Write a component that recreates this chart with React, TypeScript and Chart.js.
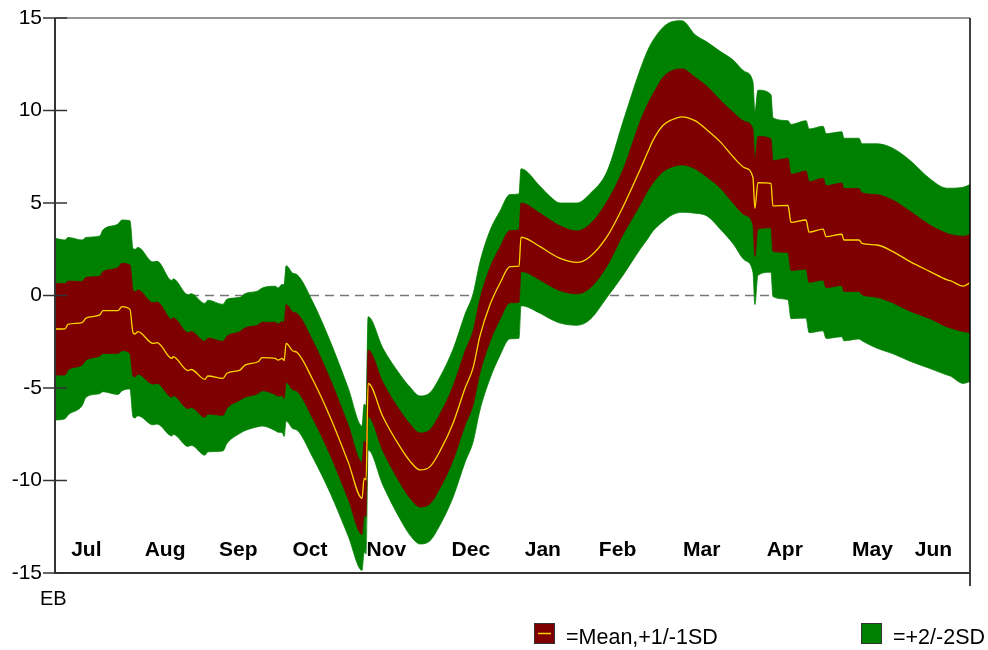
import { useEffect, useRef } from 'react';
import { Chart, registerables } from 'chart.js';

Chart.register(...registerables);

const FONT = '"Liberation Sans", Arial, Helvetica, sans-serif';
const RED = '#7f0000';
const GREEN = '#008000';
const YELLOW = '#ffd700';

// Day of season (0 = 1 Jul)
const days = [
  0, 4.0, 5.2, 10.8, 12.4, 17.9, 19.1, 25.1, 26.7, 29.9, 31.1, 31.9, 33.1,
  39.1, 40.7, 46.7, 47.1, 53.1, 54.3, 59.8, 61.0, 67.0, 68.6, 73.8, 75.8, 81.0, 82.6,
  87.8, 89.0, 90.6, 91.4, 92.2, 94.9, 96.5, 102.9, 109.7, 116.9, 122.5, 123.3, 124.1,
  124.9, 130.8, 137.6, 141.6, 145.6, 149.6, 153.6, 158.8, 163.6, 166.8, 169.5, 173.5, 177.5, 181.5, 185.1,
  185.9, 193.5, 197.5, 201.5, 208.2, 213.4, 220.2, 226.6, 233.4, 236.6, 238.6, 242.6, 246.1, 250.1, 255.3, 260.1, 265.3, 270.5, 275.2, 278.4,
  279.2, 280.4, 285.6, 286.4, 292.4, 293.6, 299.6, 300.8, 306.4, 307.6, 313.9, 314.7, 320.7, 321.9, 327.9, 334.3, 341.1, 349.1, 355.9, 357.1, 362.3, 365,
];

// Mean + 2 SD
const plus2Values = [
  3.09, 3.00, 3.14, 3.00, 3.14, 3.22, 3.54, 3.86, 4.08, 4.04, 2.55, 2.50, 2.60,
  1.81, 1.85, 0.80, 0.90, 0.04, 0.10, -0.43, -0.25, -0.48, -0.20, -0.10, 0.10, 0.25, 0.40,
  0.50, 0.41, 0.60, 0.58, 1.61, 1.20, 1.13, -0.37, -2.45, -4.98, -7.06, -5.88, -5.97,
  -1.15, -2.85, -4.27, -4.95, -5.43, -5.25, -4.40, -2.90, -1.00, 0.10, 1.80, 3.50, 4.56, 5.46, 5.49,
  6.85, 5.90, 5.35, 5.00, 5.00, 5.50, 6.70, 9.40, 12.20, 13.30, 13.80, 14.50, 14.80, 14.85, 14.10, 13.70, 13.20, 12.73, 12.10, 11.56,
  9.91, 11.10, 10.86, 9.60, 9.45, 9.25, 9.45, 9.00, 9.15, 8.75, 8.85, 8.50, 8.50, 8.20, 8.20, 7.95, 7.30, 6.30, 5.80, 5.80, 5.85, 6.00,
];

// Mean + 1 SD
const plus1Values = [
  0.66, 0.64, 0.78, 0.75, 0.98, 1.05, 1.29, 1.50, 1.74, 1.65, 0.30, 0.20, 0.30,
  -0.39, -0.35, -1.30, -1.20, -2.01, -1.95, -2.48, -2.30, -2.48, -2.20, -1.95, -1.75, -1.60, -1.45,
  -1.45, -1.54, -1.40, -1.47, -0.49, -0.90, -0.97, -2.47, -4.50, -6.98, -9.01, -7.88, -7.97,
  -2.95, -4.70, -6.22, -6.95, -7.43, -7.25, -6.40, -4.90, -3.00, -1.90, -0.20, 1.50, 2.61, 3.51, 3.54,
  5.00, 4.44, 4.08, 3.76, 3.49, 3.85, 5.08, 6.80, 9.40, 10.40, 10.90, 11.80, 12.15, 12.25, 11.80, 11.30, 10.57, 9.90, 9.40, 9.00,
  7.31, 8.60, 8.46, 7.29, 7.42, 6.55, 6.73, 6.15, 6.34, 5.93, 6.08, 5.78, 5.78, 5.55, 5.45, 5.15, 4.55, 3.80, 3.35, 3.30, 3.20, 3.30,
];

// Mean
const meanValues = [
  -1.81, -1.80, -1.56, -1.47, -1.22, -1.05, -0.82, -0.82, -0.60, -0.75, -2.00, -2.08, -1.95,
  -2.59, -2.55, -3.40, -3.30, -4.06, -4.00, -4.53, -4.35, -4.48, -4.20, -4.03, -3.76, -3.58, -3.36,
  -3.40, -3.49, -3.40, -3.52, -2.59, -3.00, -3.07, -4.57, -6.55, -8.98, -10.96, -9.88, -9.97,
  -4.75, -6.55, -8.17, -8.95, -9.43, -9.25, -8.40, -6.90, -5.00, -3.90, -2.20, -0.50, 0.66, 1.56, 1.59,
  3.15, 2.64, 2.30, 2.01, 1.79, 2.10, 3.18, 4.80, 6.80, 7.80, 8.40, 9.20, 9.50, 9.66, 9.45, 8.95, 8.32, 7.50, 6.90, 6.39,
  4.71, 6.10, 6.06, 4.84, 4.87, 3.95, 4.08, 3.43, 3.59, 3.18, 3.31, 3.00, 3.00, 2.82, 2.73, 2.37, 1.83, 1.29, 0.84, 0.80, 0.51, 0.69,
];

// Mean - 1 SD
const minus1Values = [
  -4.30, -4.30, -4.03, -3.76, -3.49, -3.27, -3.13, -3.13, -2.98, -3.13, -4.35, -4.40, -4.25,
  -4.79, -4.75, -5.50, -5.40, -6.11, -6.05, -6.58, -6.40, -6.48, -6.10, -5.65, -5.50, -5.30, -5.15,
  -5.35, -5.44, -5.40, -5.57, -4.69, -5.10, -5.17, -6.67, -8.60, -10.98, -12.91, -11.88, -11.97,
  -6.55, -8.40, -10.12, -10.95, -11.43, -11.25, -10.40, -8.90, -7.00, -5.90, -4.20, -2.50, -1.29, -0.39, -0.36,
  1.30, 0.84, 0.52, 0.26, 0.09, 0.40, 1.60, 3.30, 4.90, 5.70, 6.10, 6.70, 6.95, 7.06, 6.85, 6.40, 5.82, 5.00, 4.35, 3.83,
  2.11, 3.60, 3.66, 2.39, 2.32, 1.35, 1.43, 0.71, 0.84, 0.43, 0.54, 0.22, 0.22, 0.05, -0.10, -0.40, -0.85, -1.25, -1.70, -1.75, -1.95, -2.00,
];

// Mean - 2 SD
const minus2Values = [
  -6.73, -6.66, -6.46, -5.96, -5.50, -5.30, -5.20, -5.35, -5.15, -5.05, -6.55, -6.62, -6.50,
  -6.99, -6.95, -7.60, -7.50, -8.16, -8.10, -8.63, -8.45, -8.40, -8.00, -7.45, -7.30, -7.09, -7.05,
  -7.30, -7.39, -7.40, -7.62, -6.79, -7.20, -7.27, -8.77, -10.65, -12.98, -14.86, -13.88, -13.97,
  -8.35, -10.25, -12.07, -12.95, -13.43, -13.25, -12.40, -10.90, -9.00, -7.90, -6.20, -4.50, -3.24, -2.34, -2.31,
  -0.55, -0.96, -1.26, -1.49, -1.61, -1.30, -0.10, 1.10, 2.50, 3.10, 3.50, 4.00, 4.35, 4.50, 4.45, 4.30, 3.60, 2.80, 1.90, 1.27,
  -0.49, 1.10, 1.26, -0.06, -0.23, -1.25, -1.22, -2.01, -1.91, -2.32, -2.23, -2.45, -2.35, -2.45, -2.85, -3.15, -3.55, -3.95, -4.30, -4.35, -4.75, -4.65,
];

const yTicks = [15, 10, 5, 0, -5, -10, -15];
const monthLabels = ['Jul', 'Aug', 'Sep', 'Oct', 'Nov', 'Dec', 'Jan', 'Feb', 'Mar', 'Apr', 'May', 'Jun'];
const monthLabelDays = [12.5, 43.9, 73.1, 101.7, 132.2, 165.9, 194.6, 224.4, 258.0, 291.1, 326.1, 350.4];

const stationName = 'EB';
const legendMean = '=Mean,+1/-1SD';
const legendTwoSd = '=+2/-2SD';

function series(values: number[]) {
  return days.map((d, i) => ({ x: d, y: values[i] }));
}

const labelsPlugin = {
  id: 'monthLabels',
  afterDatasetsDraw(chart: any) {
    const { ctx } = chart;
    const x = chart.scales.x;
    ctx.save();
    ctx.fillStyle = '#000';
    ctx.font = `bold 21px ${FONT}`;
    ctx.textAlign = 'center';
    ctx.textBaseline = 'alphabetic';
    monthLabels.forEach((m, i) => {
      ctx.fillText(m, x.getPixelForValue(monthLabelDays[i]), 556);
    });
    ctx.restore();
  },
};

const framePlugin = {
  id: 'frame',
  afterDraw(chart: any) {
    const { ctx, chartArea: a } = chart;
    const y = chart.scales.y;
    ctx.save();
    // top border
    ctx.strokeStyle = '#707070';
    ctx.lineWidth = 1.5;
    ctx.beginPath();
    ctx.moveTo(a.left, a.top);
    ctx.lineTo(a.right, a.top);
    ctx.stroke();
    // right border with tick below the axis
    ctx.strokeStyle = '#000';
    ctx.lineWidth = 1.5;
    ctx.beginPath();
    ctx.moveTo(a.right, a.top);
    ctx.lineTo(a.right, a.bottom + 13);
    ctx.stroke();
    // left and bottom axes
    ctx.strokeStyle = '#333';
    ctx.lineWidth = 2;
    ctx.beginPath();
    ctx.moveTo(a.left, a.top);
    ctx.lineTo(a.left, a.bottom);
    ctx.lineTo(a.right, a.bottom);
    ctx.stroke();
    // y ticks crossing the axis, and their labels
    ctx.lineWidth = 1.5;
    ctx.font = `21px ${FONT}`;
    ctx.fillStyle = '#000';
    ctx.textAlign = 'right';
    ctx.textBaseline = 'middle';
    yTicks.forEach((t) => {
      const py = y.getPixelForValue(t);
      ctx.strokeStyle = '#333';
      ctx.beginPath();
      ctx.moveTo(a.left - 12, py);
      ctx.lineTo(a.left + 12, py);
      ctx.stroke();
      ctx.fillText(String(t), a.left - 13, py);
    });
    // station name
    ctx.textAlign = 'left';
    ctx.textBaseline = 'alphabetic';
    ctx.font = `20px ${FONT}`;
    ctx.fillText(stationName, 40, 605);
    // legend
    ctx.font = `21.5px ${FONT}`;
    ctx.fillStyle = RED;
    ctx.fillRect(534.5, 623.5, 20, 20);
    ctx.strokeStyle = '#333';
    ctx.lineWidth = 1;
    ctx.strokeRect(534.5, 623.5, 20, 20);
    ctx.strokeStyle = YELLOW;
    ctx.lineWidth = 1.5;
    ctx.beginPath();
    ctx.moveTo(538, 633.5);
    ctx.lineTo(551, 633.5);
    ctx.stroke();
    ctx.fillStyle = '#000';
    ctx.fillText(legendMean, 566, 644);
    ctx.fillStyle = GREEN;
    ctx.fillRect(861.5, 623.5, 20, 20);
    ctx.strokeStyle = '#333';
    ctx.lineWidth = 1;
    ctx.strokeRect(861.5, 623.5, 20, 20);
    ctx.fillStyle = '#000';
    ctx.fillText(legendTwoSd, 893, 644);
    ctx.restore();
  },
};

export default function App() {
  const ref = useRef<HTMLCanvasElement>(null);

  useEffect(() => {
    if (!ref.current) return;
    const line = { pointRadius: 0, cubicInterpolationMode: 'monotone' };
    const chart = new Chart(ref.current, {
      type: 'line',
      data: {
        datasets: [
          { label: 'Mean', data: series(meanValues), borderColor: YELLOW, borderWidth: 1.3, fill: false, ...line },
          { label: '+1SD', data: series(plus1Values), borderColor: RED, backgroundColor: RED, borderWidth: 0.8, fill: '+1', ...line },
          { label: '-1SD', data: series(minus1Values), borderColor: RED, borderWidth: 0.8, fill: false, ...line },
          { label: '+2SD', data: series(plus2Values), borderColor: GREEN, backgroundColor: GREEN, borderWidth: 0.8, fill: '+1', ...line },
          { label: '-2SD', data: series(minus2Values), borderColor: GREEN, borderWidth: 0.8, fill: false, ...line },
          {
            label: 'zero',
            data: [{ x: 0, y: 0 }, { x: 365, y: 0 }],
            borderColor: '#777',
            borderWidth: 1.5,
            borderDash: [9, 6],
            fill: false,
            pointRadius: 0,
          },
        ],
      },
      options: {
        animation: false,
        responsive: false,
        layout: { padding: { left: 55, top: 18, right: 18, bottom: 77 } },
        scales: {
          x: { type: 'linear', min: 0, max: 365, display: false },
          y: { min: -15, max: 15, display: false },
        },
        plugins: { legend: { display: false }, tooltip: { enabled: false } },
      },
      plugins: [labelsPlugin, framePlugin],
    } as any);
    return () => chart.destroy();
  }, []);

  return (
    <div style={{ position: 'fixed', left: 0, top: 0, width: 988, height: 650, background: '#fff' }}>
      <canvas ref={ref} width={988} height={650} />
    </div>
  );
}
